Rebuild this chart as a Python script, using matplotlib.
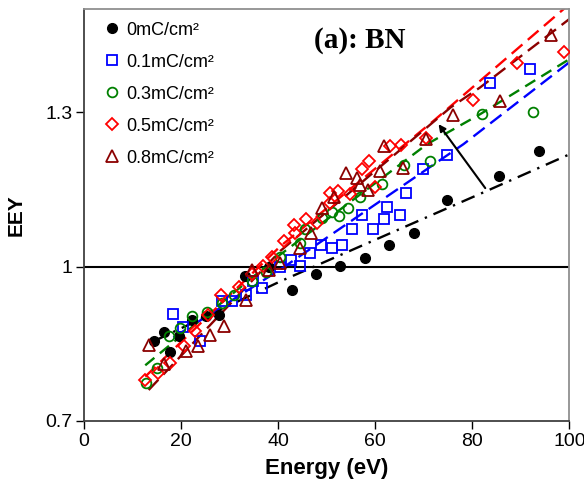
import numpy as np
import matplotlib.pyplot as plt

plt.rcParams['font.family'] = ['Liberation Sans', 'DejaVu Sans']

# 0 mC/cm2
x0 = [14.4, 16.4, 17.7, 19.5, 22.3, 25.2, 27.8, 33.1, 38.1, 42.9, 47.7, 52.8,
      57.9, 62.9, 68.0, 74.8, 85.4, 93.7]
y0 = [0.855, 0.873, 0.834, 0.864, 0.896, 0.903, 0.906, 0.982, 0.999, 0.955, 0.986, 1.001,
      1.017, 1.041, 1.066, 1.129, 1.175, 1.224]

# 0.1 mC/cm2
x1 = [18.4, 20.4, 23.8, 28.4, 30.5, 33.4, 34.8, 36.6, 40.4, 42.6, 44.5, 46.6, 48.8,
      51.0, 53.2, 55.3, 57.2, 59.6, 61.9, 62.5, 65.1, 66.4, 69.8, 74.8, 83.6, 91.8]
y1 = [0.908, 0.883, 0.855, 0.932, 0.932, 0.945, 0.971, 0.958, 1.000, 1.013, 1.001, 1.027, 1.042,
      1.036, 1.042, 1.073, 1.100, 1.073, 1.092, 1.116, 1.100, 1.142, 1.190, 1.216, 1.357, 1.383]

# 0.3 mC/cm2
x3 = [12.7, 15.1, 17.4, 19.8, 22.3, 25.3, 28.5, 30.8, 34.6, 37.5, 40.3, 44.5, 45.6,
      49.0, 51.1, 52.5, 54.3, 56.8, 61.4, 66.0, 71.2, 82.0, 92.6]
y3 = [0.774, 0.802, 0.865, 0.880, 0.903, 0.912, 0.930, 0.945, 0.971, 0.990, 1.019, 1.046, 1.072,
      1.095, 1.105, 1.099, 1.113, 1.135, 1.161, 1.197, 1.206, 1.296, 1.300]

# 0.5 mC/cm2
x5 = [12.6, 15.3, 17.7, 20.5, 22.9, 25.5, 28.3, 32.0, 34.5, 36.8, 38.7, 41.1, 43.2, 43.5,
      45.8, 48.0, 50.7, 50.7, 52.4, 54.8, 57.3, 58.8, 60.0, 63.1, 65.2, 70.5, 80.1, 89.3, 98.8]
y5 = [0.779, 0.794, 0.813, 0.845, 0.875, 0.905, 0.945, 0.960, 0.985, 1.001, 1.019, 1.050, 1.080, 1.065,
      1.093, 1.085, 1.124, 1.142, 1.146, 1.140, 1.189, 1.206, 1.155, 1.235, 1.236, 1.249, 1.323, 1.395, 1.417]

# 0.8 mC/cm2
x8 = [13.3, 16.5, 20.9, 23.4, 25.9, 28.8, 33.4, 34.6, 38.0, 40.4, 44.5, 46.7, 49.1,
      51.4, 54.0, 56.2, 56.8, 58.6, 60.9, 61.7, 65.7, 70.4, 76.0, 85.8, 96.2]
y8 = [0.847, 0.810, 0.836, 0.845, 0.866, 0.884, 0.935, 0.994, 0.994, 1.007, 1.036, 1.065, 1.114,
      1.135, 1.182, 1.172, 1.159, 1.148, 1.185, 1.235, 1.192, 1.248, 1.294, 1.321, 1.449]

# trendlines at a few energies
tx0 = [14.4, 29.4, 40.4, 83.0, 100]
ty0 = [0.855, 0.922, 0.971, 1.147, 1.218]
tx1 = [18.4, 40.4, 78.2, 100]
ty1 = [0.862, 0.994, 1.238, 1.397]
tx3 = [12.6, 40.4, 70.7, 81.6, 100]
ty3 = [0.808, 1.023, 1.238, 1.296, 1.403]
tx5 = [12.6, 40.4, 72.0, 100]
ty5 = [0.786, 1.039, 1.283, 1.510]
tx8 = [13.3, 40.4, 75.5, 81.6, 100]
ty8 = [0.760, 1.030, 1.309, 1.348, 1.481]

labels = ['0mC/cm²', '0.1mC/cm²', '0.3mC/cm²', '0.5mC/cm²', '0.8mC/cm²']
colors = ['black', '#0000ff', '#008000', '#ff0000', '#8b0000']
markers = ['o', 's', 'o', 'D', '^']
sizes = [7, 7, 7, 6, 8]
dashes = [(6, 3, 1, 3), (6, 3), (5, 3), (6, 3), (6, 3)]
series = [(x0, y0), (x1, y1), (x3, y3), (x5, y5), (x8, y8)]
trends = [(tx0, ty0), (tx1, ty1), (tx3, ty3), (tx5, ty5), (tx8, ty8)]

fig = plt.figure(figsize=(5.84, 4.86), dpi=100)
ax = fig.add_axes([0.144, 0.134, 0.831, 0.847])

ax.axhline(1.0, color='black', lw=1.5, zorder=1)

for (xs, ys), lab, c, m, s in zip(series, labels, colors, markers, sizes):
    if c == 'black':
        ax.plot(xs, ys, ls='none', marker=m, ms=s, color=c, label=lab, zorder=3)
    else:
        ax.plot(xs, ys, ls='none', marker=m, ms=s, mfc='none', mec=c, mew=1.3,
                label=lab, zorder=3)

for (tx, ty), c, d in zip(trends, colors, dashes):
    ax.plot(tx, ty, color=c, lw=1.7, dashes=d, zorder=2)

ax.annotate('', xy=(72.7, 1.281), xytext=(83.0, 1.148),
            arrowprops=dict(arrowstyle='-|>', color='black', lw=1.5))

ax.text(0.568, 0.925, '(a): BN', transform=ax.transAxes, ha='center', va='center',
        fontsize=21, fontweight='bold', family='Liberation Serif')

ax.set_xlim(0, 100)
ax.set_ylim(0.7, 1.5)
ax.set_xticks([0, 20, 40, 60, 80, 100])
ax.set_yticks([0.7, 1.0, 1.3])
ax.set_yticklabels(['0.7', '1', '1.3'])
ax.tick_params(direction='out', length=6, labelsize=14, width=1, pad=2.5)
ax.set_xlabel('Energy (eV)', fontsize=16, fontweight='bold', labelpad=6)
ax.set_ylabel('EEY', fontsize=15, fontweight='bold', labelpad=14)
for sp in ['left', 'bottom']:
    ax.spines[sp].set_color('#404040')
    ax.spines[sp].set_linewidth(1.3)
for sp in ['top', 'right']:
    ax.spines[sp].set_color('#909090')
    ax.spines[sp].set_linewidth(1.3)

ax.legend(loc='upper left', frameon=False, fontsize=13, handletextpad=0.3,
          labelspacing=0.83, borderaxespad=0, borderpad=0, handlelength=1.0,
          bbox_to_anchor=(0.039, 0.97))

fig.savefig('out.png', dpi=100)
